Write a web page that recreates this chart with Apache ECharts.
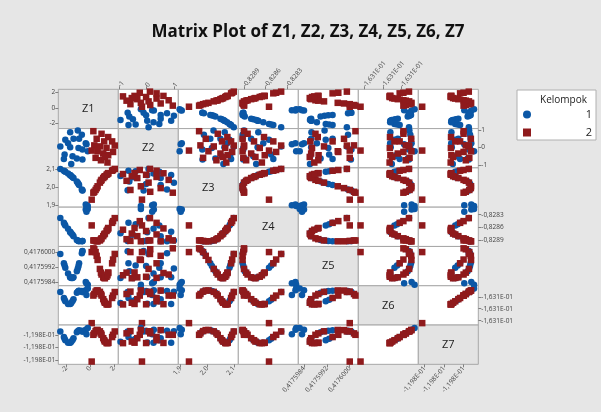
<!DOCTYPE html>
<html><head><meta charset="utf-8">
<script src="https://cdn.jsdelivr.net/npm/echarts@6/dist/echarts.min.js"></script>
<style>html,body{margin:0;padding:0;background:#e6e6e6}#c{width:601px;height:412px}</style>
</head><body><div id="c"></div>
<script>
const varNames = ['Z1','Z2','Z3','Z4','Z5','Z6','Z7'];

// Kelompok 1 (blue circles)
const g1Z1 = [-1.67,-1.03,-0.69,-2.08,-1.39,-0.92,-0.36,-2.50,-1.67,-0.97,-0.64,-0.19,-2.14,-1.47,-1.11,-0.64,-2.20,-1.58,-0.30,-1.85];
const g1Z2 = [0.89,0.99,0.74,0.46,0.51,0.51,0.26,0.07,0.02,-0.02,-0.11,-0.21,-0.40,-0.50,-0.63,-0.69,-0.66,-0.95,0.20,0.25];
const g1Z3 = [2.066,2.024,1.988,2.084,2.050,2.012,1.905,2.100,2.065,2.018,1.982,1.897,2.087,2.055,2.031,1.983,2.090,2.061,1.901,2.075];
const g1Z4 = [-0.82870,-0.82890,-0.82892,-0.82855,-0.82880,-0.82892,-0.82818,-0.82838,-0.82871,-0.82891,-0.82891,-0.82817,-0.82852,-0.82877,-0.82889,-0.82891,-0.82849,-0.82873,-0.82823,-0.82863];
const g1Z5 = [0.41759866,0.41759912,0.41759994,0.41759916,0.41759865,0.41759940,0.41759840,0.41759990,0.41759865,0.41759925,0.41760006,0.41759825,0.41759928,0.41759862,0.41759898,0.41760004,0.41759940,0.41759861,0.41759833,0.41759885];
const g1Z6 = [-0.1631030,-0.1630979,-0.16309764,-0.1631019,-0.1631010,-0.16309746,-0.1630973,-0.1630980,-0.1631029,-0.16309764,-0.16309806,-0.1630965,-0.1631012,-0.16310175,-0.16309833,-0.1630980,-0.1631005,-0.1631026,-0.1630993,-0.16310305];
const g1Z7 = [-0.1198081,-0.11980355,-0.11980332,-0.11980712,-0.11980632,-0.11980316,-0.1198030,-0.11980364,-0.1198080,-0.11980332,-0.1198037,-0.1198023,-0.1198065,-0.1198070,-0.11980394,-0.11980364,-0.11980587,-0.11980775,-0.1198048,-0.11980815];

// Kelompok 2 (red squares)
const g2Z1 = [0.97,1.53,0.56,1.19,1.86,0.36,0.83,1.39,0.14,0.64,1.94,1.11,1.53,0.47,0.92,1.25,1.47,2.08,0.28];
const g2Z2 = [0.80,0.61,0.51,0.36,0.36,0.13,0.07,-0.02,-0.17,-0.21,-0.25,-0.34,-0.44,-0.59,-0.73,-0.54,-0.86,0.12,0.95];
const g2Z3 = [2.040,2.076,1.995,2.056,2.090,1.975,2.025,2.068,1.932,2.005,2.094,2.050,2.077,1.985,2.035,2.060,2.072,2.100,1.970];
const g2Z4 = [-0.82885,-0.82862,-0.82892,-0.82876,-0.82849,-0.82890,-0.82890,-0.82868,-0.82855,-0.82892,-0.82845,-0.82880,-0.82861,-0.82891,-0.82887,-0.82874,-0.82865,-0.82838,-0.82890];
const g2Z5 = [0.41759880,0.41759888,0.41759980,0.41759862,0.41759940,0.41760015,0.41759910,0.41759868,0.41760000,0.41759958,0.41759960,0.41759865,0.41759891,0.41760000,0.41759890,0.41759860,0.41759876,0.41759990,0.41760020];
const g2Z6 = [-0.1630995,-0.1631031,-0.1630974,-0.1631019,-0.1631005,-0.16309885,-0.16309795,-0.16310315,-0.163111,-0.16309735,-0.1630995,-0.1631010,-0.1631030,-0.16309785,-0.16309885,-0.1631025,-0.1631032,-0.1630980,-0.1630995];
const g2Z7 = [-0.11980498,-0.1198082,-0.11980311,-0.11980712,-0.11980587,-0.1198044,-0.1198036,-0.11980824,-0.1198156,-0.11980306,-0.11980498,-0.11980632,-0.11980811,-0.11980351,-0.1198044,-0.11980766,-0.11980829,-0.11980364,-0.11980498];

// Tick values and labels per variable
const tickValues = [
  [-2,0,2],[-1,0,1],[1.9,2.0,2.1],[-0.8289,-0.8286,-0.8283],
  [0.4175984,0.4175992,0.4176000],[-0.163110,-0.163105,-0.163100],[-0.119815,-0.119810,-0.119805]
];
const tickLabels = [
  ['-2','0','2'],['-1','0','1'],['1,9','2,0','2,1'],['-0,8289','-0,8286','-0,8283'],
  ['0,4175984','0,4175992','0,4176000'],['-1,631E-01','-1,631E-01','-1,631E-01'],['-1,198E-01','-1,198E-01','-1,198E-01']
];

const G1 = [g1Z1,g1Z2,g1Z3,g1Z4,g1Z5,g1Z6,g1Z7];
const G2 = [g2Z1,g2Z2,g2Z3,g2Z4,g2Z5,g2Z6,g2Z7];

// axis extents
const xRange = [[-2.67,2.38],[-1.03,1.15],[1.892,2.117],[-0.82898,-0.82814],[0.4175982,0.4176003],[-0.1631116,-0.1630955],[-0.1198166,-0.1198012]];
const yRange = [[-2.67,2.38],[-1.17,1.10],[1.891,2.1055],[-0.82904,-0.828125],[0.4175982,0.4176003],[-0.1631118,-0.1630954],[-0.1198167,-0.1198011]];

const BLUE = '#0b57a6', RED = '#8f1a1c';
const FONT = '"Open Sans","Noto Sans",sans-serif';
const N = 7, X0 = 58.3, Y0 = 89.3, CW = 60, CH = 39.29;

function labelFor(v, k) {
  let best = 0;
  tickValues[k].forEach((t, i) => { if (Math.abs(t - v) < Math.abs(tickValues[k][best] - v)) best = i; });
  return tickLabels[k][best];
}

const grids = [], xAxes = [], yAxes = [], series = [], graphics = [];
for (let r = 0; r < N; r++) {
  for (let c = 0; c < N; c++) {
    const k = r * N + c;
    grids.push({left: X0 + c * CW, top: Y0 + r * CH, width: CW, height: CH, show: true,
      backgroundColor: r === c ? '#e3e3e3' : '#ffffff', borderColor: '#a8a8a8', borderWidth: 1,
      containLabel: false, outerBoundsMode: 'none'});
    const showTop = r === 0 && c % 2 === 1;
    const showBottom = r === N - 1 && c % 2 === 0;
    const showLeft = c === 0 && r % 2 === 0;
    const showRight = c === N - 1 && r % 2 === 1;
    const sx = showTop || showBottom, sy = showLeft || showRight;
    xAxes.push({gridIndex: k, type: 'value', min: xRange[c][0], max: xRange[c][1],
      position: showTop ? 'top' : 'bottom',
      axisLine: {show: false, onZero: false}, splitLine: {show: false},
      axisTick: {show: sx, customValues: tickValues[c], length: 3, lineStyle: {color: '#808080'}},
      axisLabel: {show: sx, customValues: tickValues[c], rotate: showTop ? -50 : 50, fontSize: 6.5, color: '#444',
        fontFamily: FONT, margin: 3, formatter: v => labelFor(v, c)}});
    yAxes.push({gridIndex: k, type: 'value', min: yRange[r][0], max: yRange[r][1],
      position: showRight ? 'right' : 'left',
      axisLine: {show: false, onZero: false}, splitLine: {show: false},
      axisTick: {show: sy, customValues: tickValues[r], length: 3, lineStyle: {color: '#808080'}},
      axisLabel: {show: sy, customValues: tickValues[r], fontSize: 6.5, color: '#444',
        fontFamily: FONT, margin: 3, formatter: v => labelFor(v, r)}});
    if (r === c) {
      graphics.push({type: 'text', x: X0 + c * CW + CW / 2, y: Y0 + r * CH + CH / 2,
        style: {text: varNames[r], fontSize: 11, fill: '#222', fontFamily: FONT, align: 'center', verticalAlign: 'middle'}});
      continue;
    }
    series.push({type: 'scatter', name: '1', xAxisIndex: k, yAxisIndex: k, clip: false,
      symbol: 'circle', symbolSize: 6.5, itemStyle: {color: BLUE, opacity: 1}, animation: false,
      data: G1[c].map((x, i) => [x, G1[r][i]])});
    series.push({type: 'scatter', name: '2', xAxisIndex: k, yAxisIndex: k, clip: false,
      symbol: 'rect', symbolSize: 6.5, itemStyle: {color: RED, opacity: 1}, animation: false,
      data: G2[c].map((x, i) => [x, G2[r][i]])});
  }
}

graphics.push({type: 'text', x: 308, y: 32,
  style: {text: 'Matrix Plot of Z1, Z2, Z3, Z4, Z5, Z6, Z7', fontSize: 17, fontWeight: 'bold', fill: '#111',
    fontFamily: FONT, align: 'center', verticalAlign: 'middle'}});
graphics.push({type: 'rect', left: 516.5, top: 89.5, shape: {width: 79, height: 50},
  style: {fill: '#fff', stroke: '#b0b0b0', lineWidth: 1}, z: 0});
graphics.push({type: 'text', x: 587, y: 100,
  style: {text: 'Kelompok', fontSize: 10, fill: '#222', fontFamily: FONT, align: 'right', verticalAlign: 'middle'}, z: 1});

const chart = echarts.init(document.getElementById('c'), null, {renderer: 'canvas'});
chart.setOption({
  backgroundColor: '#e6e6e6',
  animation: false,
  grid: grids, xAxis: xAxes, yAxis: yAxes, series: series,
  graphic: graphics,
  legend: {orient: 'vertical', left: 523, top: 109, itemWidth: 8, itemHeight: 8, itemGap: 7, z: 10, padding: 0,
    data: [{name: '1', icon: 'circle', itemStyle: {color: BLUE}}, {name: '2', icon: 'rect', itemStyle: {color: RED}}],
    formatter: '{a|{name}}',
    textStyle: {fontSize: 11, color: '#222', fontFamily: FONT,
      rich: {a: {width: 56, align: 'right', fontSize: 11, fontFamily: FONT, color: '#222'}}}}
});
</script></body></html>
